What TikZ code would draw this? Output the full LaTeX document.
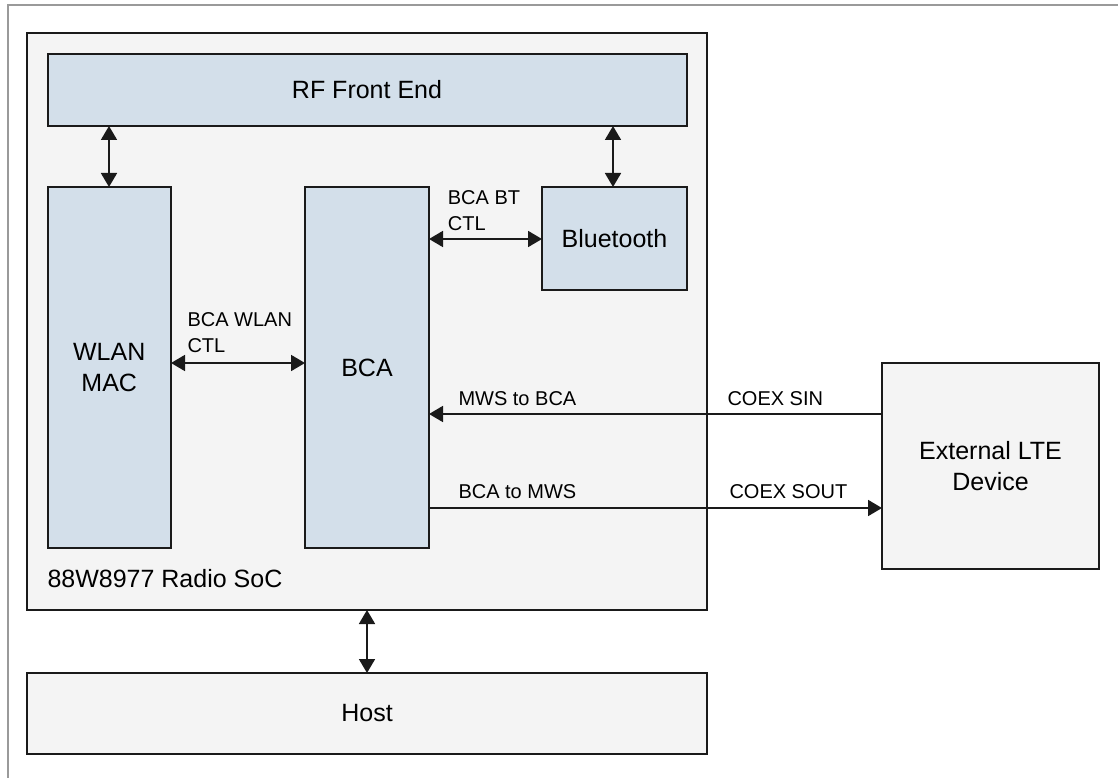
\documentclass[tikz,border=0pt]{standalone}
\usepackage{fontspec}
\setmainfont{Liberation Sans}
\usetikzlibrary{arrows.meta}
\definecolor{blk}{HTML}{D3DFEA}
\definecolor{socfill}{HTML}{F4F4F4}
\definecolor{frm}{HTML}{9A9A9A}
\definecolor{edgec}{HTML}{1A1A1A}
\newcommand\mybig{\fontsize{25}{31.5}\selectfont}
\newcommand\mysmall{\fontsize{20}{26}\selectfont}
\begin{document}
\begin{tikzpicture}[x=1pt,y=-1pt,
  box/.style={draw=edgec, line width=2pt, inner sep=0pt, outer sep=0pt, anchor=north west, align=center, font=\mybig, text=black},
  lbl/.style={font=\mysmall, inner sep=0pt, anchor=base west, align=left, text=black},
  dbl/.style={line width=1.8pt, draw=edgec, {Triangle[length=14pt,width=16pt]}-{Triangle[length=14pt,width=16pt]}},
  sgl/.style={line width=1.8pt, draw=edgec, -{Triangle[length=14pt,width=16pt]}}]
\useasboundingbox (0,0) rectangle (1118,778);
\fill[white] (0,0) rectangle (1118,778);
\draw[frm, line width=2.2pt] (8,778) -- (8,5) -- (1118,5);
% boxes
\node[box, fill=socfill, minimum width=680pt, minimum height=577pt] (soc) at (27,33) {};
\node[box, fill=blk, minimum width=639pt, minimum height=72pt] (rf) at (47.5,54) {RF Front End};
\node[box, fill=blk, minimum width=123.5pt, minimum height=361pt] (wlan) at (47.5,187) {WLAN\\MAC};
\node[box, fill=blk, minimum width=124pt, minimum height=361pt] (bca) at (305,187) {BCA};
\node[box, fill=blk, minimum width=145pt, minimum height=103pt] (bt) at (542,187) {Bluetooth};
\node[box, fill=socfill, minimum width=217pt, minimum height=206pt] (lte) at (882,363) {External LTE\\Device};
\node[box, fill=socfill, minimum width=680pt, minimum height=81pt] (host) at (27,673) {Host};
\node[font=\mybig, inner sep=0pt, anchor=base west, text=black] (soclbl) at (47.3,587.7) {88W8977 Radio SoC};
% helper coordinates
\coordinate (xa) at (109,0);
\coordinate (xb) at (613,0);
\coordinate (xc) at (367,0);
\coordinate (ya) at (0,239);
\coordinate (yb) at (0,363);
\coordinate (yc) at (0,414);
\coordinate (yd) at (0,508);
% connectors
\draw[dbl] (rf.south -| xa) -- (wlan.north -| xa);
\draw[dbl] (rf.south -| xb) -- (bt.north -| xb);
\draw[dbl] (bca.east |- ya) -- (bt.west |- ya);
\draw[dbl] (wlan.east |- yb) -- (bca.west |- yb);
\draw[sgl] (lte.west |- yc) -- (bca.east |- yc);
\draw[sgl] (bca.east |- yd) -- (lte.west |- yd);
\draw[dbl] (soc.south -| xc) -- (host.north -| xc);
% labels
\node[lbl] (l1) at (447.7,230) {BCA BT\\CTL};
\node[lbl] (l2) at (187.3,352.7) {BCA WLAN\\CTL};
\node[lbl] (l3) at (458.3,405) {MWS to BCA};
\node[lbl] (l4) at (727.3,405) {COEX SIN};
\node[lbl] (l5) at (458.3,498.3) {BCA to MWS};
\node[lbl] (l6) at (729.3,498.3) {COEX SOUT};
\end{tikzpicture}
\end{document}
